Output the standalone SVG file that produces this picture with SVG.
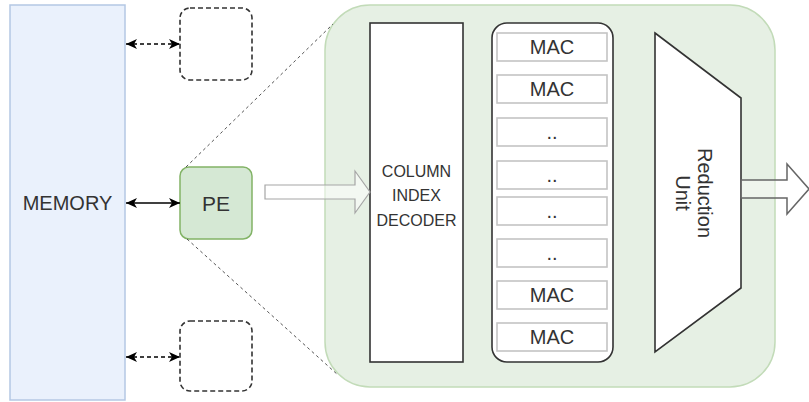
<svg xmlns="http://www.w3.org/2000/svg" width="809" height="402" viewBox="0 0 809 402">
  <style>
    text { font-family: "Liberation Sans", Helvetica, Arial, sans-serif; fill: #333333; text-anchor: middle; dominant-baseline: central; }
    .dashbox { fill: none; stroke: #333333; stroke-width: 1.6; stroke-dasharray: 5 3; }
    .mac { fill: #ffffff; stroke: #c4c4c4; stroke-width: 1.6; }
    .mac-t { font-size: 20px; }
    .unit { fill: #ffffff; stroke: #333333; stroke-width: 1.6; }
    .link { fill: none; stroke: #000000; stroke-width: 1.6; }
    .zoomline { fill: none; stroke: #555555; stroke-width: 1; stroke-dasharray: 3 3; }
  </style>
  <defs>
    <marker id="arrow" viewBox="0 0 11 10" refX="11" refY="5" markerWidth="11" markerHeight="10" markerUnits="userSpaceOnUse" orient="auto-start-reverse">
      <path d="M0,0 L11,5 L0,10 L3,5 Z" fill="#000000" stroke="none"/>
    </marker>
  </defs>

  <!-- memory block -->
  <g id="memory">
    <rect x="10" y="5" width="115" height="395" fill="#eaf1fc" stroke="#b4c7e4" stroke-width="1.5"/>
    <text x="67.5" y="203" font-size="20">MEMORY</text>
  </g>

  <!-- neighbouring processing elements (placeholders) -->
  <g id="pe-top">
    <rect class="dashbox" x="180" y="8" width="72" height="72" rx="10"/>
  </g>
  <g id="pe-bottom">
    <rect class="dashbox" x="180" y="321" width="72" height="70" rx="10"/>
  </g>

  <!-- expanded PE container -->
  <g id="pe-detail">
    <rect x="325" y="5" width="450" height="382" rx="45" fill="#e6f0e4" stroke="#c2dbb8" stroke-width="1.5"/>
  </g>

  <!-- processing element -->
  <g id="pe">
    <rect x="180" y="167" width="72" height="72" rx="9" fill="#d5e8d4" stroke="#82b366" stroke-width="1.5"/>
    <text x="216" y="203" font-size="21">PE</text>
  </g>

  <!-- column index decoder -->
  <g id="decoder">
    <rect class="unit" x="370" y="23" width="93" height="339"/>
    <text x="416.5" y="171" font-size="16">COLUMN</text>
    <text x="416.5" y="195" font-size="16">INDEX</text>
    <text x="416.5" y="220" font-size="16">DECODER</text>
  </g>

  <!-- MAC array -->
  <g id="mac-array">
    <rect class="unit" x="492" y="23" width="121" height="339" rx="15"/>
  </g>
  <g id="mac-1"><rect class="mac" x="497" y="33" width="110" height="28"/><text class="mac-t" x="552" y="47">MAC</text></g>
  <g id="mac-2"><rect class="mac" x="497" y="75" width="110" height="28"/><text class="mac-t" x="552" y="89">MAC</text></g>
  <g id="mac-3"><rect class="mac" x="497" y="118" width="110" height="28"/><text class="mac-t" x="552" y="132">..</text></g>
  <g id="mac-4"><rect class="mac" x="497" y="161" width="110" height="28"/><text class="mac-t" x="552" y="175">..</text></g>
  <g id="mac-5"><rect class="mac" x="497" y="197" width="110" height="28"/><text class="mac-t" x="552" y="211">..</text></g>
  <g id="mac-6"><rect class="mac" x="497" y="239" width="110" height="28"/><text class="mac-t" x="552" y="253">..</text></g>
  <g id="mac-7"><rect class="mac" x="497" y="281" width="110" height="28"/><text class="mac-t" x="552" y="295">MAC</text></g>
  <g id="mac-8"><rect class="mac" x="497" y="323" width="110" height="28"/><text class="mac-t" x="552" y="337">MAC</text></g>

  <!-- reduction unit -->
  <g id="reduction">
    <polygon class="unit" points="655,33 741,98 741,288 655,352"/>
    <g transform="translate(694,193) rotate(90)">
      <text x="0" y="-11" font-size="20">Reduction</text>
      <text x="0" y="11" font-size="20">Unit</text>
    </g>
  </g>

  <!-- connectors -->
  <g id="connectors">
    <line class="link" x1="126" y1="44" x2="180" y2="44" stroke-dasharray="4 3" marker-start="url(#arrow)" marker-end="url(#arrow)"/>
    <line class="link" x1="126" y1="357" x2="180" y2="357" stroke-dasharray="4 3" marker-start="url(#arrow)" marker-end="url(#arrow)"/>
    <line class="link" x1="126" y1="203" x2="180" y2="203" marker-start="url(#arrow)" marker-end="url(#arrow)"/>
    <line class="zoomline" x1="186" y1="167" x2="333" y2="24"/>
    <line class="zoomline" x1="187" y1="239" x2="338" y2="375"/>
    <!-- wide hollow arrows -->
    <path d="M265,185 L355,185 L355,171 L370,192 L355,213 L355,199 L265,199 Z" fill="#ffffff" fill-opacity="0.5" stroke="#a6a6a6" stroke-width="1.2"/>
    <path d="M741,180 L787,180 L787,164 L809,189 L787,214 L787,198 L741,198 Z" fill="#ffffff" fill-opacity="0.35" stroke="#666666" stroke-width="1.5"/>
  </g>
</svg>
